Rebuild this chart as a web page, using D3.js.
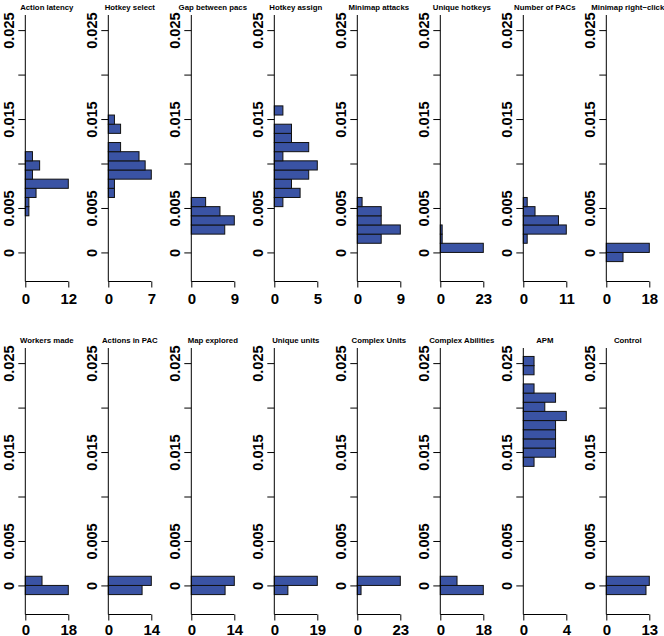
<!DOCTYPE html>
<html>
<head>
<meta charset="utf-8">
<script src="https://cdn.jsdelivr.net/npm/d3@7"></script>
<style>
  html, body { margin: 0; padding: 0; background: #fff; }
  svg { display: block; }
</style>
</head>
<body>
<svg id="chart" width="664" height="636"></svg>
<script>
// ---- data ----
const panelTitles = ["Action latency", "Hotkey select", "Gap between pacs", "Hotkey assign",
  "Minimap attacks", "Unique hotkeys", "Number of PACs", "Minimap right\u2212click",
  "Workers made", "Actions in PAC", "Map explored", "Unique units",
  "Complex Units", "Complex Abilities", "APM", "Control"];
const xMaxTicks = [12, 7, 9, 5, 9, 23, 11, 18, 18, 14, 14, 19, 23, 18, 4, 13];
const binWidth = 0.00103;
// index of the lowest bin (bin k spans k*binWidth .. (k+1)*binWidth)
const firstBin = [4, 6, 2, 5, 1, 0, 1, -1, -1, -1, -1, -1, -1, -1, 13, -1];
// counts from the lowest bin upward
const binCounts = [
  [1, 1, 3, 12, 2, 4, 2],
  [1, 1, 7, 6, 5, 2, 0, 2, 1],
  [7, 9, 6, 3],
  [1, 3, 2, 4, 5, 1, 4, 2, 2, 0, 1],
  [5, 9, 5, 5, 1],
  [23, 1, 1],
  [1, 11, 9, 3, 1],
  [7, 18],
  [18, 7],
  [11, 14],
  [11, 14],
  [6, 19],
  [2, 23],
  [18, 7],
  [1, 3, 3, 3, 3, 4, 2, 3, 1, 0, 1, 1],
  [12, 13]
];
const yTickValues = [0, 0.005, 0.01, 0.015, 0.02, 0.025];
const yTickLabels = ["0", "0.005", "", "0.015", "", "0.025"];
const yLimits = [-0.0031, 0.0267];

// ---- layout ----
const colStep = 83, rowStep = 333;
const plotLeft = 25.3, plotW = 43;
const plotTop = 15, plotBottom = 280, xAxisY = 281.5;
const barFill = "#3A53A4";
const fontFam = "'Liberation Sans', Arial, Helvetica, sans-serif";

const svg = d3.select("#chart");

panelTitles.forEach((title, i) => {
  const col = i % 8, row = Math.floor(i / 8);
  const ox = col * colStep, oy = row * rowStep;
  const g = svg.append("g").attr("transform", `translate(${ox},${oy})`);

  const x = d3.scaleLinear().domain([0, xMaxTicks[i]]).range([plotLeft, plotLeft + plotW]);
  const y = d3.scaleLinear().domain(yLimits).range([plotBottom, plotTop]);

  // bars
  const bins = binCounts[i].map((c, k) => ({ c, k: firstBin[i] + k })).filter(d => d.c > 0);
  g.selectAll("rect.bar").data(bins).enter().append("rect")
    .attr("class", "bar")
    .attr("x", x(0))
    .attr("width", d => x(d.c) - x(0))
    .attr("y", d => y((d.k + 1) * binWidth))
    .attr("height", d => y(d.k * binWidth) - y((d.k + 1) * binWidth))
    .attr("fill", barFill)
    .attr("stroke", "#111")
    .attr("stroke-width", 1);

  // y axis
  const yAxis = d3.axisLeft(y).tickValues(yTickValues).tickSize(7).tickSizeOuter(0)
    .tickFormat((d, j) => yTickLabels[j]);
  const ya = g.append("g").attr("transform", `translate(${plotLeft},0)`).call(yAxis);
  ya.select(".domain").remove();
  ya.selectAll(".tick line").attr("stroke", "#000").attr("stroke-width", 1);
  ya.selectAll(".tick text")
    .attr("x", null).attr("dy", null)
    .attr("transform", "translate(-11.5,0) rotate(-90)")
    .attr("text-anchor", "middle")
    .attr("font-family", fontFam).attr("font-size", 14.5).attr("font-weight", "bold")
    .attr("fill", "#000");
  g.append("line").attr("x1", plotLeft).attr("x2", plotLeft)
    .attr("y1", plotTop).attr("y2", xAxisY).attr("stroke", "#000").attr("stroke-width", 1);

  // x axis
  const xAxis = d3.axisBottom(x).tickValues([0, xMaxTicks[i]]).tickSize(6).tickSizeOuter(0)
    .tickFormat(d3.format("d"));
  const xa = g.append("g").attr("transform", `translate(0,${xAxisY})`).call(xAxis);
  xa.select(".domain").attr("d", `M${x(0)},0H${x(xMaxTicks[i])}`).attr("stroke", "#000");
  xa.selectAll(".tick line").attr("stroke", "#000");
  xa.selectAll(".tick text")
    .attr("y", row === 0 ? 22 : 20).attr("dy", null)
    .attr("font-family", fontFam).attr("font-size", 15).attr("font-weight", "bold")
    .attr("fill", "#000");

  // title
  g.append("text")
    .attr("x", plotLeft + plotW / 2).attr("y", 10)
    .attr("text-anchor", "middle")
    .attr("font-family", fontFam).attr("font-size", 7.8).attr("font-weight", "bold")
    .text(title);
});
</script>
</body>
</html>
